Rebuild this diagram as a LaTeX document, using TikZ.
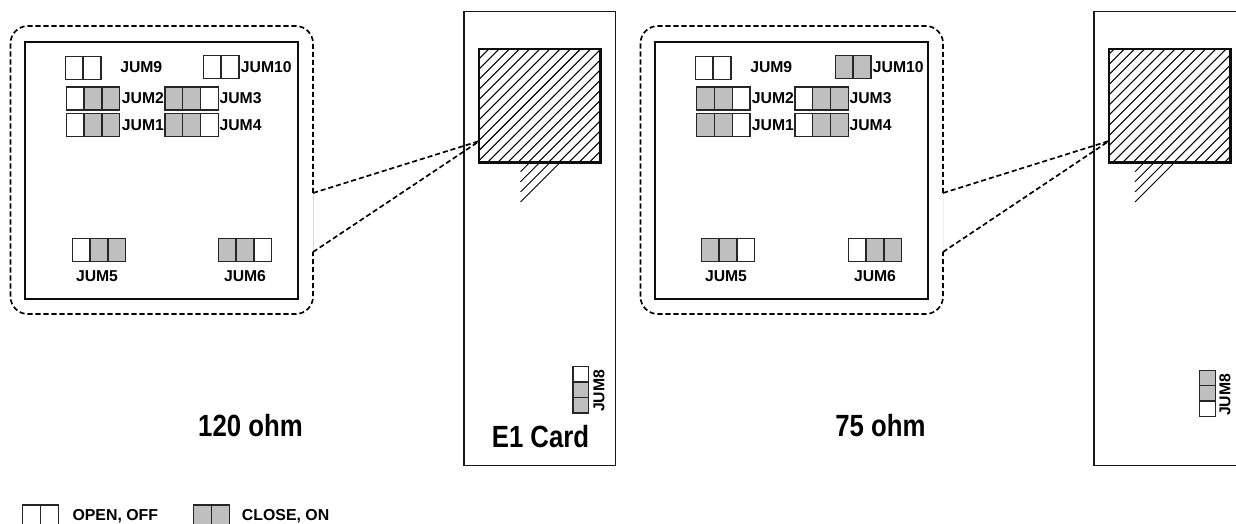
\documentclass[tikz,border=0pt]{standalone}
\usepackage{fontspec}
\setmainfont{Liberation Sans}
\definecolor{jumgray}{HTML}{BFBFBF}
\tikzset{
  x=0.75pt,y=-0.75pt,
  cellbox/.style={draw=black!85,line width=1pt},
  offcell/.style={cellbox,fill=white},
  oncell/.style={cellbox,fill=jumgray},
  board/.style={draw=black!95,line width=1.6pt},
  zoomline/.style={draw=black,line width=1.25pt,dash pattern=on 3.8pt off 2.2pt},
  gapline/.style={line width=0.6pt},
  jumlabel/.style={font=\bfseries\fontsize{11.8}{13}\selectfont,inner sep=0pt},
  biglabel/.style={font=\bfseries\fontsize{23}{26}\selectfont,inner sep=0pt,xscale=0.84},
  legendlabel/.style={font=\bfseries\fontsize{11.9}{13}\selectfont,inner sep=0pt,anchor=west},
  hatchline/.style={line width=0.8pt,draw=black},
}
\newcommand{\jumrow}[3]{%
  \foreach \st [count=\i from 0] in {#3}{%
    \ifnum\st=1 \path[oncell] ({#1+\i*17.8},#2) rectangle ++(17.8,23);
    \else \path[offcell] ({#1+\i*17.8},#2) rectangle ++(17.8,23);\fi
  }}
\newcommand{\jumcol}[3]{%
  \foreach \st [count=\i from 0] in {#3}{%
    \ifnum\st=1 \path[oncell] (#1,{#2+\i*15.4}) rectangle ++(15.8,15.4);
    \else \path[offcell] (#1,{#2+\i*15.4}) rectangle ++(15.8,15.4);\fi
  }}
% #1 left x of big hatch box, #2 first x+y sum, #3 left x of the small hatch, #4 its first x+y sum
\newcommand{\hatchbox}[4]{%
  \begin{scope}
    \clip (#1,49) rectangle ++(121.5,113.5);
    \foreach \k in {0,...,24}{\draw[hatchline] ({#2+\k*10.17-162.5},162.5) -- ++(113.5,-113.5);}
  \end{scope}
  \foreach \k in {0,...,3}{\draw[hatchline,line width=0.65pt] (#3,{#4-#3+\k*10.1}) -- ({#4+\k*10.1-162.5},162.5);}
  \draw[board] (#1,49) rectangle ++(121.5,113.5);
}
\begin{document}
\begin{tikzpicture}
\useasboundingbox (0,0) rectangle (1236,524);
% ---------- left panel
\coordinate (aL) at (313,193);
\coordinate (bL) at (313,252);
\coordinate (tL) at (479.5,141);
\draw[draw=black!15,gapline] (aL) -- (bL);
\draw[zoomline,rounded corners=13pt] (aL) -- (313,26) -- (10.5,26) -- (10.5,314) -- (313,314) -- (bL);
\draw[board] (25,41.7) rectangle (298,299);
\draw[draw=black!90,line width=1.4pt] (463.7,11.5) rectangle (615.5,465.5);
\hatchbox{479}{527.8}{520.5}{692.2}
\draw[zoomline] (aL) -- (tL);
\draw[zoomline] (bL) -- (tL);
\jumrow{65.3}{56.7}{0,0}
\jumrow{203.3}{55.3}{0,0}
\jumrow{66.3}{87}{0,1,1}
\jumrow{66.3}{113.5}{0,1,1}
\jumrow{165}{87}{1,1,0}
\jumrow{165}{113.5}{1,1,0}
\jumrow{72.3}{238.3}{0,1,1}
\jumrow{218.3}{238.3}{1,1,0}
\jumcol{573}{366.7}{0,1,1}
\node[jumlabel,anchor=west] (j9L) at (120,67.3) {JUM9};
\node[jumlabel,anchor=west] (j10L) at (240.7,66.7) {JUM10};
\node[jumlabel,anchor=west] (j2L) at (121.7,98.3) {JUM2};
\node[jumlabel,anchor=west] (j1L) at (121.7,124.7) {JUM1};
\node[jumlabel,anchor=west] (j3L) at (219.3,98.3) {JUM3};
\node[jumlabel,anchor=west] (j4L) at (219.3,124.7) {JUM4};
\node[jumlabel] (j5L) at (97,276) {JUM5};
\node[jumlabel] (j6L) at (245,276) {JUM6};
\node[jumlabel,rotate=90] (j8L) at (599,391) {JUM8};
\node[biglabel] (ohmL) at (250.5,426) {120 ohm};
\node[biglabel] (card) at (540.5,437) {E1 Card};
% ---------- right panel
\coordinate (aR) at (943,193);
\coordinate (bR) at (943,252);
\coordinate (tR) at (1109,141);
\draw[draw=black!6,gapline] (aR) -- (bR);
\draw[zoomline,rounded corners=13pt] (aR) -- (943,26) -- (640.5,26) -- (640.5,314) -- (943,314) -- (bR);
\draw[board] (655,41.7) rectangle (928,299);
\draw[draw=black!90,line width=1.4pt] (1237,11.5) -- (1094,11.5) -- (1094,465.5) -- (1237,465.5);
\hatchbox{1109}{1153}{1135}{1306.7}
\draw[zoomline] (aR) -- (tR);
\draw[zoomline] (bR) -- (tR);
\jumrow{695.3}{56.7}{0,0}
\jumrow{835.3}{55.3}{1,1}
\jumrow{696.7}{87}{1,1,0}
\jumrow{696.7}{113.5}{1,1,0}
\jumrow{795}{87}{0,1,1}
\jumrow{795}{113.5}{0,1,1}
\jumrow{701.3}{238.3}{1,1,0}
\jumrow{848.3}{238.3}{0,1,1}
\jumcol{1199.5}{370.3}{1,1,0}
\node[jumlabel,anchor=west] (j9R) at (750,67.3) {JUM9};
\node[jumlabel,anchor=west] (j10R) at (872.7,66.7) {JUM10};
\node[jumlabel,anchor=west] (j2R) at (751.7,98.3) {JUM2};
\node[jumlabel,anchor=west] (j1R) at (751.7,124.7) {JUM1};
\node[jumlabel,anchor=west] (j3R) at (849.3,98.3) {JUM3};
\node[jumlabel,anchor=west] (j4R) at (849.3,124.7) {JUM4};
\node[jumlabel] (j5R) at (726,276) {JUM5};
\node[jumlabel] (j6R) at (875,276) {JUM6};
\node[jumlabel,rotate=90] (j8R) at (1225,395) {JUM8};
\node[biglabel] (ohmR) at (880.5,426) {75 ohm};
% ---------- legend
\jumrow{22.7}{505}{0,0}
\jumrow{193.7}{505}{1,1}
\node[legendlabel] (open) at (72.3,516.5) {OPEN, OFF};
\node[legendlabel] (close) at (241.7,516.5) {CLOSE, ON};
\end{tikzpicture}
\end{document}
